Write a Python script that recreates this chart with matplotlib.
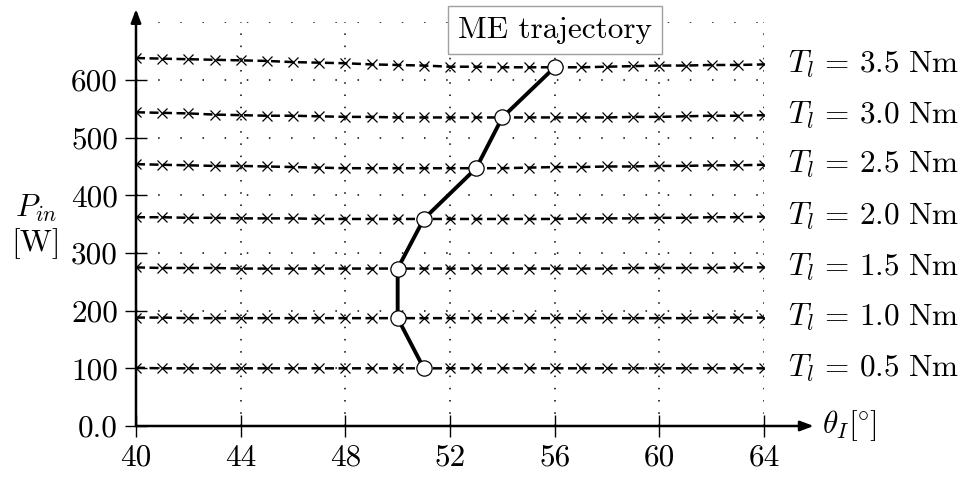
import matplotlib
matplotlib.use("Agg")
import matplotlib.pyplot as plt

plt.rcParams['font.family'] = 'serif'
plt.rcParams['font.serif'] = ['cmr10']
plt.rcParams['mathtext.fontset'] = 'cm'
plt.rcParams['axes.unicode_minus'] = False

theta = list(range(40, 65))
torque_labels = ['0.5', '1.0', '1.5', '2.0', '2.5', '3.0', '3.5']
P_05 = [101, 100, 100, 100, 100, 100, 100, 100, 100, 100, 100, 100, 100, 100, 100, 100, 100, 100, 100, 100, 100, 100, 100, 100, 100]
P_10 = [188, 188, 187, 187, 187, 187, 187, 187, 187, 187, 187, 187, 187, 187, 187, 187, 187, 187, 187, 187, 187, 187, 188, 188, 188]
P_15 = [275, 274, 274, 274, 273, 273, 273, 273, 273, 273, 273, 273, 273, 273, 273, 273, 273, 273, 273, 274, 274, 274, 274, 275, 275]
P_20 = [362, 362, 361, 361, 360, 360, 360, 359, 359, 359, 359, 359, 359, 359, 359, 359, 359, 360, 360, 360, 361, 361, 362, 362, 363]
P_25 = [454, 453, 452, 451, 451, 450, 449, 448, 447, 447, 447, 447, 447, 447, 447, 448, 449, 449, 450, 450, 451, 451, 452, 452, 453]
P_30 = [544, 543, 542, 540, 539, 538, 538, 537, 536, 536, 535, 535, 535, 535, 535, 535, 535, 535, 535, 536, 536, 537, 538, 538, 539]
P_35 = [638, 637, 636, 635, 634, 633, 631, 630, 629, 627, 626, 625, 623, 623, 622, 622, 622, 622, 623, 624, 625, 625, 626, 626, 627]
series = [P_05, P_10, P_15, P_20, P_25, P_30, P_35]

me_theta = [51, 50, 50, 51, 53, 54, 56]
me_P = [100, 187, 273, 359, 447, 535, 622]

x_ticks = [40, 44, 48, 52, 56, 60, 64]
y_ticks = [0, 100, 200, 300, 400, 500, 600]
y_ticklabels = ['0.0', '100', '200', '300', '400', '500', '600']
grid_y = [100, 200, 300, 400, 500, 600, 700]

FS = 22.5

fig = plt.figure(figsize=(9.62, 4.8), dpi=100)
ax = fig.add_axes([136/962, 1-426/480, (764-136)/962, (426-22.3)/480])
ax.set_xlim(40, 64)
ax.set_ylim(0, 700)
for s in ax.spines.values():
    s.set_visible(False)

# grid
for gy in grid_y:
    ax.plot([40, 64], [gy, gy], color='black', lw=1.1, linestyle=(0, (1.0, 13.5)), zorder=1)
for gx in x_ticks[1:]:
    ax.plot([gx, gx], [0, 700], color='black', lw=1.1, linestyle=(0, (1.0, 7.0)), zorder=1)

# series
for P in series:
    ax.plot(theta, P, color='black', lw=1.8, linestyle=(0, (3.6, 1.8)),
            marker='x', markersize=7.5, markeredgewidth=0.9, zorder=3)

# ME trajectory
ax.plot(me_theta, me_P, color='black', lw=2.8, marker='o', markersize=11,
        markerfacecolor='white', markeredgecolor='black', markeredgewidth=0.9, zorder=5)

# axes arrows
ax.annotate('', xy=(65.9, 0), xytext=(40, 0), annotation_clip=False,
            arrowprops=dict(arrowstyle='-|>,head_length=0.8,head_width=0.3', color='black', lw=1.8,
                            shrinkA=0, shrinkB=0), zorder=6)
ax.annotate('', xy=(40, 723), xytext=(40, 0), annotation_clip=False,
            arrowprops=dict(arrowstyle='-|>,head_length=0.8,head_width=0.3', color='black', lw=1.8,
                            shrinkA=0, shrinkB=0), zorder=6)

ax.set_xticks(x_ticks)
ax.set_xticklabels([str(t) for t in x_ticks])
ax.set_yticks(y_ticks)
ax.set_yticklabels(y_ticklabels)
ax.tick_params(axis='both', direction='inout', length=16, width=1.0, labelsize=FS, color='black')
ax.tick_params(axis='x', pad=5)
ax.tick_params(axis='y', pad=5)

# right labels
for lab, P in zip(torque_labels, series):
    ax.text(64.9, P[-1], r'$T_l\,=\,' + lab + r'\ \mathrm{Nm}$', fontsize=FS,
            ha='left', va='center', clip_on=False)

# legend-like box
ax.text(56, 687, 'ME trajectory', fontsize=FS, ha='center', va='center', clip_on=False,
        bbox=dict(boxstyle='square,pad=0.32', facecolor='white', edgecolor='#a0a0a0', lw=1.0), zorder=7)

# axis labels
fig.text(36/962, 1-208/480, r'$P_{in}$', fontsize=FS, ha='center', va='center')
fig.text(36/962, 1-244/480, r'[W]', fontsize=FS, ha='center', va='center')
ax.text(66.2, 0, r'$\theta_I[\!^\circ\!]$', fontsize=FS, ha='left', va='center', clip_on=False)

fig.savefig('out.png', dpi=100)
